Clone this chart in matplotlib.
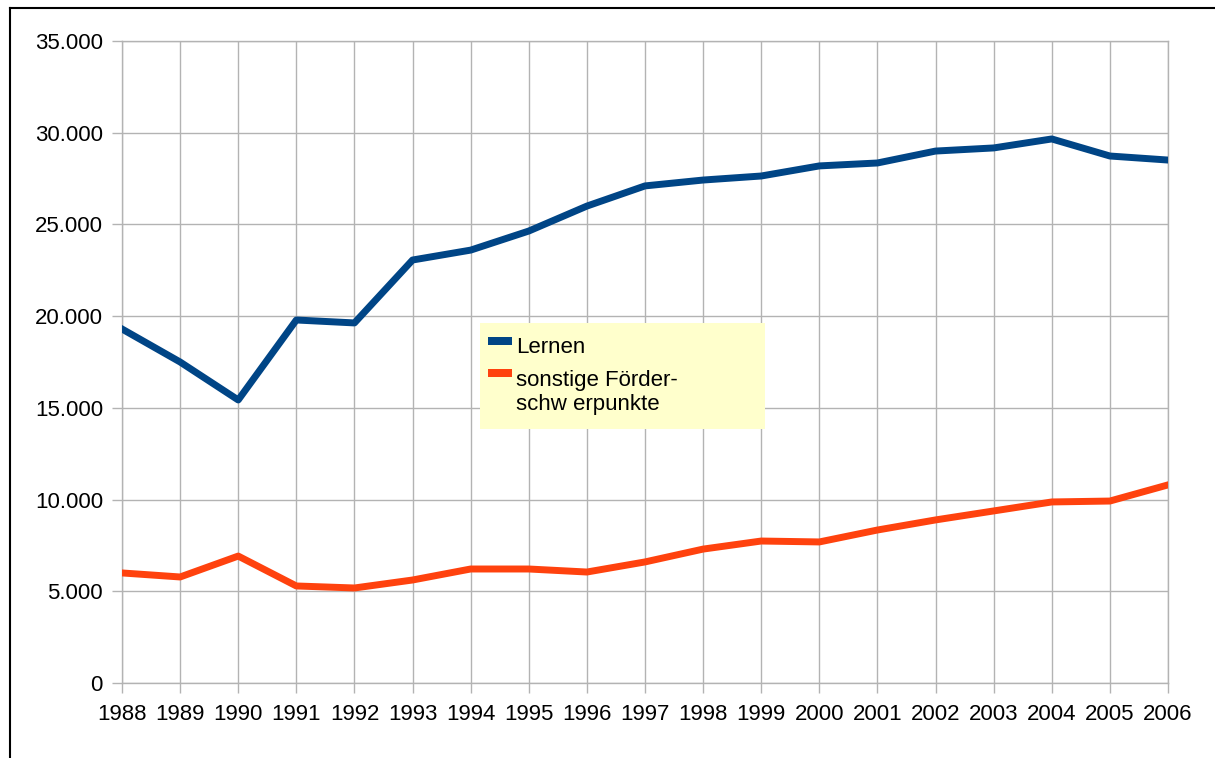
import matplotlib
matplotlib.use("Agg")
import matplotlib.pyplot as plt
from matplotlib.ticker import FuncFormatter, MultipleLocator
from matplotlib.lines import Line2D
from matplotlib.patches import Rectangle

plt.rcParams['font.family'] = ['Liberation Sans', 'DejaVu Sans']

# data
years = [1988, 1989, 1990, 1991, 1992, 1993, 1994, 1995, 1996, 1997,
         1998, 1999, 2000, 2001, 2002, 2003, 2004, 2005, 2006]
lernen = [19300, 17500, 15430, 19790, 19630, 23060, 23600, 24640, 26000, 27100,
          27420, 27640, 28190, 28350, 29000, 29170, 29660, 28730, 28510]
sonstige = [6000, 5780, 6920, 5290, 5180, 5615, 6215, 6215, 6050, 6600,
            7300, 7740, 7690, 8340, 8890, 9380, 9870, 9920, 10800]
labels = ["Lernen", "sonstige Förder-\nschw erpunkte"]
colors = ["#004586", "#ff420e"]

W, H = 1215, 758
fig = plt.figure(figsize=(W/100, H/100), dpi=100)
ax = fig.add_axes([122/W, 1-683/H, (1168-122)/W, (683-41)/H])

ax.plot(years, lernen, color=colors[0], linewidth=5, zorder=3)
ax.plot(years, sonstige, color=colors[1], linewidth=5, zorder=3)

ax.set_xlim(years[0], years[-1])
ax.set_ylim(0, 35000)
ax.set_xticks(years)
ax.yaxis.set_major_locator(MultipleLocator(5000))
ax.yaxis.set_major_formatter(FuncFormatter(lambda v, p: f"{int(v):,}".replace(",", ".")))

ax.grid(True, color="#b3b3b3", linewidth=1)
ax.set_axisbelow(True)
for s in ax.spines.values():
    s.set_color("#b3b3b3")
    s.set_linewidth(1)
ax.tick_params(axis='both', length=7.2, width=1, color="#b3b3b3", labelsize=16, labelcolor="black")
ax.tick_params(axis='y', pad=6.5)
ax.tick_params(axis='x', pad=8)

# legend box, drawn by hand so the handles line up with the first text line
fig.add_artist(Rectangle((480/W, 1-429/H), 285/W, 106/H, transform=fig.transFigure,
                         facecolor="#ffffcc", edgecolor="none", zorder=5))
handle_y = [341, 373]
text_base = [353, 386]
for c, lab, hy, tb in zip(colors, labels, handle_y, text_base):
    fig.add_artist(Rectangle((488/W, 1-(hy+4)/H), 24/W, 8/H, transform=fig.transFigure,
                             facecolor=c, edgecolor="none", zorder=6))
    for k, line in enumerate(lab.split("\n")):
        fig.text(516/W, 1-(tb+24*k)/H, line, fontsize=16, va='baseline', ha='left', zorder=7)

# outer frame lines (left and top)
fig.add_artist(Line2D([10/W, 10/W], [0, 1-8/H], color="black", linewidth=1.5))
fig.add_artist(Line2D([10/W, 1], [1-8/H, 1-8/H], color="black", linewidth=1.5))

fig.savefig("out.png", dpi=100)
